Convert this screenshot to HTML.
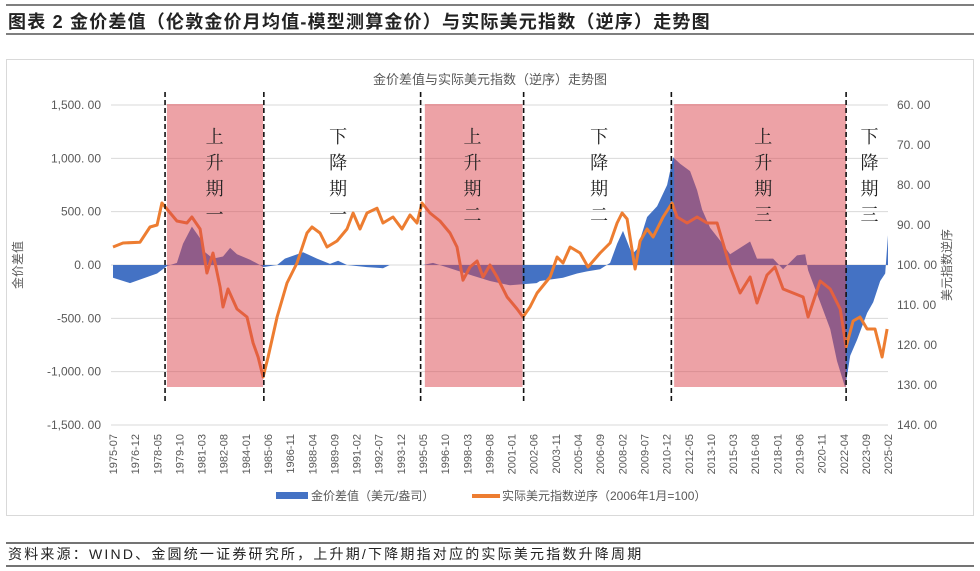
<!DOCTYPE html>
<html><head><meta charset="utf-8">
<style>
body{margin:0;background:#fff;width:980px;height:571px;overflow:hidden;font-family:"Liberation Sans","Noto Sans CJK SC",sans-serif;}
svg{position:absolute;left:0;top:0}
</style></head>
<body>
<svg id="c" width="980" height="571">
<line x1="6" y1="5" x2="974" y2="5" stroke="#555" stroke-width="1.5"/>
<text x="8" y="28" font-size="18" font-weight="bold" fill="#222" letter-spacing="1.2">图表 2  金价差值（伦敦金价月均值-模型测算金价）与实际美元指数（逆序）走势图</text>
<line x1="6" y1="34" x2="974" y2="34" stroke="#555" stroke-width="1.5"/>
<rect x="6.5" y="59.5" width="967" height="456" fill="#fff" stroke="#d9d9d9"/>
<text x="490" y="84" font-size="13" fill="#595959" text-anchor="middle">金价差值与实际美元指数（逆序）走势图</text>
<g id="grid"></g><g id="gapArea"></g><g id="line"></g><g id="shade"></g><g id="dash"></g><g id="labels"></g>
<text transform="translate(22,265) rotate(-90)" font-size="12" fill="#595959" text-anchor="middle">金价差值</text>
<text transform="translate(951,265) rotate(-90)" font-size="12" fill="#595959" text-anchor="middle">美元指数逆序</text>
<rect x="276" y="492" width="32" height="7" fill="#4472C4"/>
<text x="311" y="500" font-size="12" fill="#595959">金价差值（美元/盎司）</text>
<rect x="472" y="494" width="28" height="4" fill="#ED7D31"/>
<text x="502" y="500" font-size="12" fill="#595959">实际美元指数逆序（2006年1月=100）</text>
<line x1="6" y1="543" x2="974" y2="543" stroke="#222" stroke-width="1.2"/>
<text x="8" y="559" font-size="14" fill="#222" letter-spacing="2.2">资料来源：WIND、金圆统一证券研究所，上升期/下降期指对应的实际美元指数升降周期</text>
<line x1="6" y1="566" x2="974" y2="566" stroke="#222" stroke-width="1.2"/>
</svg>
<script>
const leftTicks=[1500,1000,500,0,-500,-1000,-1500];
const leftTickLabels=["1,500. 00","1,000. 00","500. 00","0. 00","-500. 00","-1,000. 00","-1,500. 00"];
const rightTicks=[60,70,80,90,100,110,120,130,140];
const rightTickLabels=["60. 00","70. 00","80. 00","90. 00","100. 00","110. 00","120. 00","130. 00","140. 00"];
const xTickLabels=["1975-07","1976-12","1978-05","1979-10","1981-03","1982-08","1984-01","1985-06","1986-11","1988-04","1989-09","1991-02","1992-07","1993-12","1995-05","1996-10","1998-03","1999-08","2001-01","2002-06","2003-11","2005-04","2006-09","2008-02","2009-07","2010-12","2012-05","2013-10","2015-03","2016-08","2018-01","2019-06","2020-11","2022-04","2023-09","2025-02"];
const gapDates=[1975.5,1976.59,1978.32,1978.95,1979.59,1979.98,1980.55,1981.07,1981.39,1981.9,1982.54,1982.99,1983.43,1984.27,1984.9,1985.1,1986.0,1986.5,1987.66,1988.55,1989.38,1989.9,1990.47,1991.75,1992.77,1993.2,1995.33,1995.97,1997.06,1998.53,1999.62,2000.9,2002.6,2002.82,2004.29,2005.19,2005.83,2006.66,2007.3,2007.75,2008.13,2008.71,2009.03,2009.67,2010.31,2010.95,2011.33,2011.78,2012.42,2012.87,2013.19,2013.7,2014.34,2014.98,2016.26,2016.7,2017.73,2018.37,2019.26,2019.78,2019.97,2020.74,2021.38,2021.82,2022.34,2022.66,2023.1,2023.74,2024.13,2024.58,2024.9,2025.08];
const gapValues=[-120,-170,-80,-10,20,200,360,250,120,60,80,160,100,50,0,-20,0,60,120,60,10,40,0,-20,-30,0,0,20,-30,-100,-150,-190,-170,-150,-120,-80,-60,-40,20,200,320,100,150,450,550,750,1010,950,880,700,520,350,230,100,220,60,60,-40,90,100,-50,-350,-600,-900,-1150,-850,-700,-450,-350,-150,-80,280];
const dollarDates=[1975.5,1976.14,1977.23,1977.87,1978.32,1978.63,1978.95,1979.59,1980.23,1980.55,1981.07,1981.51,1981.9,1982.35,1982.54,1982.86,1983.43,1984.07,1984.46,1984.78,1985.1,1985.42,1986.0,1986.63,1987.27,1987.91,1988.23,1988.74,1989.19,1989.83,1990.47,1990.86,1991.3,1991.75,1992.39,1992.77,1993.41,1993.99,1994.5,1994.95,1995.27,1995.78,1996.42,1997.06,1997.51,1997.89,1998.34,1998.79,1999.17,1999.62,2000.07,2000.71,2001.35,2001.73,2002.18,2002.63,2003.46,2003.91,2004.29,2004.74,2005.38,2005.89,2006.66,2007.3,2007.75,2008.07,2008.39,2008.9,2009.22,2009.67,2010.05,2010.69,2011.27,2011.59,2012.23,2012.87,2013.51,2014.15,2014.98,2015.62,2016.26,2016.7,2017.34,2017.85,2018.37,2019.01,2019.65,2019.97,2020.74,2021.38,2022.02,2022.4,2022.85,2023.29,2023.74,2024.25,2024.7,2025.02];
const dollarValues=[95.5,94.5,94.3,90.5,90,84.5,86,89,89.5,88,91,102,97,105.5,110.5,106,111,113,119.5,123,128,123,113,104.5,99.5,92,90.5,92,95.5,94,91,87,91,87,85.8,89.5,88,91,87.5,89.5,84.5,87,89,92,95.5,103.8,100.5,99,103,100,103,108,111,113,110.5,107,103,98,99.5,95.5,97,100.5,97,94.5,89.5,87,88.5,101,94,91,93,88,84.5,88,89.5,88,89.5,89.5,100.5,107,103,109.5,102.5,100.5,106,107,108,113,104,106,111,120.5,114,113,116,116,123,116];
const upStarts=[1978.95,1995.45,2011.4];
const upEnds=[1985.1,2001.7,2022.4];
const cycleLines=[1978.83,1985.15,1995.18,2001.77,2011.22,2022.4];
const cycleLabels=[["上","升","期","一"],["下","降","期","一"],["上","升","期","二"],["下","降","期","二"],["上","升","期","三"],["下","降","期","三"]];
const cycleLabelDates=[1982.0,1989.9,1998.5,2006.6,2017.1,2023.9];

const NS="http://www.w3.org/2000/svg";
const X0=113,X1=888,T0=1975.5,T1=2025.08;
const xs=t=>X0+(t-T0)*(X1-X0)/(T1-T0);
const yL=v=>265-v*160/1500;
const yR=v=>105+(v-60)*4;
function mk(tag,attrs,parent){const e=document.createElementNS(NS,tag);for(const k in attrs)e.setAttribute(k,attrs[k]);document.getElementById(parent).appendChild(e);return e;}

leftTicks.forEach((v,i)=>{
  const g=mk('line',{x1:111,x2:888,y1:yL(v),y2:yL(v),stroke:'#d9d9d9','stroke-width':1},'grid');
  
  
  const t=mk('text',{x:101,y:yL(v)+4,'font-size':12,fill:'#595959','text-anchor':'end'},'labels');
  t.textContent=leftTickLabels[i];
  
  
});
rightTicks.forEach((v,i)=>{
  const t=mk('text',{x:897,y:yR(v)+4,'font-size':12,fill:'#595959'},'labels');
  t.textContent=rightTickLabels[i];
  
  
});
xTickLabels.forEach((s,i)=>{
  const yr=+s.slice(0,4),mo=+s.slice(5);
  const x=xs(yr+(mo-1)/12);
  const t=mk('text',{transform:`translate(${x+4},434) rotate(-90)`,'font-size':11,fill:'#595959','text-anchor':'end'},'labels');
  t.textContent=s;
  
  
});
let d=`M${xs(gapDates[0])},${yL(0)}`;
gapDates.forEach((t,i)=>{d+=` L${xs(t).toFixed(1)},${yL(gapValues[i]).toFixed(1)}`;});
d+=` L${xs(gapDates[gapDates.length-1])},${yL(0)} Z`;
const area=mk('path',{d:d,fill:'#4472C4'},'gapArea');


const pts=dollarDates.map((t,i)=>`${xs(t).toFixed(1)},${yR(dollarValues[i]).toFixed(1)}`).join(' ');
const ln=mk('polyline',{points:pts,fill:'none',stroke:'#ED7D31','stroke-width':3,'stroke-linejoin':'round'},'line');


upStarts.forEach((s,i)=>{
  const r=mk('rect',{x:xs(s),y:104,width:xs(upEnds[i])-xs(s),height:283,fill:'rgba(220,70,78,0.5)'},'shade');
  
  
});
cycleLines.forEach(t=>{
  const l=mk('line',{x1:xs(t),x2:xs(t),y1:92,y2:402,stroke:'#111','stroke-width':1.6,'stroke-dasharray':'5,3'},'dash');
  
  
});
cycleLabels.forEach((chars,i)=>{
  chars.forEach((c,j)=>{
    const t=mk('text',{x:xs(cycleLabelDates[i]),y:143+j*26,'font-size':18,fill:'#222','text-anchor':'middle','font-family':'"Noto Serif CJK SC",serif'},'labels');
    t.textContent=c;
    
    
  });
});
</script>
</body></html>
